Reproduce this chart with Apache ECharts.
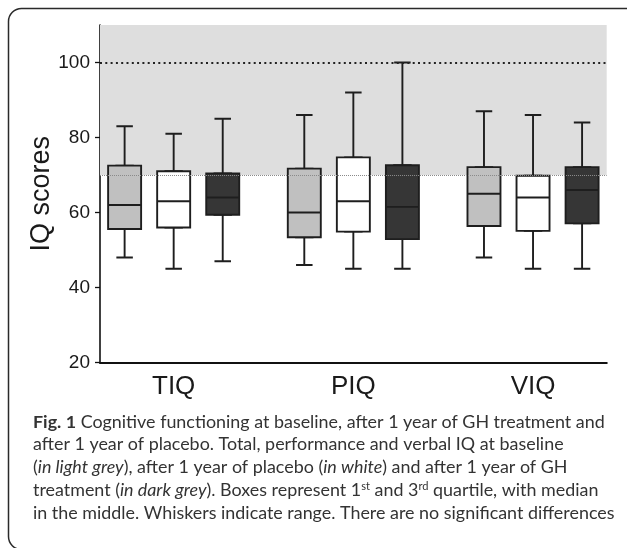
<!DOCTYPE html>
<html>
<head>
<meta charset="utf-8">
<script src="https://cdn.jsdelivr.net/npm/echarts@6/dist/echarts.min.js"></script>
<style>
html,body{margin:0;padding:0;background:#fff;}
#chart{width:627px;height:548px;}
</style>
</head>
<body>
<div id="chart"></div>
<script>
// ---- data (min, Q1, median, Q3, max) ----
var categories = ['TIQ', 'PIQ', 'VIQ'];
var baseline = [[48, 55.6, 62, 72.5, 83], [46, 53.4, 60, 71.7, 86], [48, 56.4, 65, 72.1, 87]];
var placebo = [[45, 56, 63, 71, 81], [45, 54.9, 63, 74.7, 92], [45, 55.1, 64, 69.8, 86]];
var ghTreatment = [[47, 59.4, 64, 70.4, 85], [45, 52.9, 61.5, 72.6, 100], [45, 57.1, 66, 72.1, 84]];
var yTicks = [20, 40, 60, 80, 100];
var normalRange = [70, 110];
var referenceLine = 100;

var conditions = [
  { data: baseline, color: '#c0c0c0' },
  { data: placebo, color: '#ffffff' },
  { data: ghTreatment, color: '#363636' }
];
var offsets = [-0.273, 0, 0.273];
var xMin = -0.41, xMax = 2.41;

var whiskerData = [], boxData = [];
categories.forEach(function (cat, g) {
  conditions.forEach(function (cond, c) {
    var v = cond.data[g];
    var x = g + offsets[c];
    whiskerData.push({ value: [x, v[0], v[1], v[2], v[3], v[4]], itemStyle: { color: cond.color } });
    boxData.push({ value: [x, v[1], v[1], v[2], v[3], v[3]], itemStyle: { color: cond.color } });
  });
});

var chart = echarts.init(document.getElementById('chart'), null, { renderer: 'canvas' });
var xAxisBase = {
  type: 'value', min: xMin, max: xMax,
  splitLine: { show: false }, axisTick: { show: false }
};
var option = {
  backgroundColor: '#fff',
  animation: false,
  grid: { left: 100, right: 20.3, top: 25, bottom: 185.5, containLabel: false, outerBoundsMode: 'none' },
  xAxis: [
    Object.assign({}, xAxisBase, {
      axisLine: { show: true, onZero: false, lineStyle: { color: '#111', width: 2.2 } },
      axisLabel: {
        customValues: [0, 1, 2],
        formatter: function (v) { return categories[Math.round(v)]; },
        fontSize: 26, color: '#1a1a1a', margin: 11, fontFamily: 'Liberation Sans, Arial, sans-serif'
      }
    }),
    Object.assign({}, xAxisBase, { show: false })
  ],
  yAxis: {
    type: 'value', min: 20, max: 110, interval: 20,
    splitLine: { show: false },
    axisLine: { show: true, onZero: false, lineStyle: { color: '#111', width: 1.6 } },
    axisTick: { show: true, customValues: yTicks, length: 5, lineStyle: { color: '#111', width: 1.3 } },
    axisLabel: { customValues: yTicks, fontSize: 19, color: '#1a1a1a', margin: 10, fontFamily: 'Liberation Sans, Arial, sans-serif' },
    name: 'IQ scores', nameLocation: 'middle', nameRotate: 90, nameGap: 45, nameMoveOverlap: false,
    nameTextStyle: { fontSize: 27, color: '#1a1a1a', fontFamily: 'Liberation Sans, Arial, sans-serif' }
  },
  series: [
    {
      type: 'line', xAxisIndex: 0, data: [], z: 1, silent: true,
      markArea: {
        silent: true,
        itemStyle: { color: '#dedede' },
        data: [[{ coord: [xMin, normalRange[0]] }, { coord: [xMax, normalRange[1]] }]]
      },
      markLine: {
        silent: true, symbol: 'none', label: { show: false },
        data: [
          { yAxis: referenceLine, lineStyle: { type: [2, 3.3], color: '#222', width: 1.8 } },
          { yAxis: normalRange[0], lineStyle: { type: [1, 1], color: '#8a8a8a', width: 1 } }
        ]
      }
    },
    {
      type: 'boxplot', xAxisIndex: 1, z: 3,
      boxWidth: [16.5, 16.5],
      itemStyle: { borderColor: '#1e1e1e', borderWidth: 1.9 },
      data: whiskerData
    },
    {
      type: 'boxplot', xAxisIndex: 0, z: 4,
      boxWidth: [33, 33],
      itemStyle: { borderColor: '#1e1e1e', borderWidth: 1.9 },
      data: boxData
    }
  ],
  graphic: [
    {
      type: 'rect', silent: true, z: 100,
      shape: { x: 8.5, y: 8.5, width: 630, height: 541, r: 13 },
      style: { fill: null, stroke: '#2a2a2a', lineWidth: 1.5 }
    }
  ]
};

var captionLines = [
  '{b|Fig. 1} Cognitive functioning at baseline, after 1 year of GH treatment and',
  'after 1 year of placebo. Total, performance and verbal IQ at baseline',
  '({i|in light grey}), after 1 year of placebo ({i|in white}) and after 1 year of GH',
  'treatment ({i|in dark grey}). Boxes represent 1{sup|st} and 3{sup|rd} quartile, with median',
  'in the middle. Whiskers indicate range. There are no significant differences'
];
var capFont = 'Lato, sans-serif';
// fit the caption's longest plain line to the caption column width
var ctx = document.createElement('canvas').getContext('2d');
ctx.font = '100px ' + capFont;
var capSize = Math.min(19, 100 * 582 / ctx.measureText(captionLines[4]).width);
captionLines.forEach(function (line, i) {
  option.graphic.push({
    type: 'text', silent: true, z: 100,
    left: 33, top: 424 - capSize * 0.62 + i * 22.75,
    style: {
      text: line,
      fontFamily: capFont, fontSize: capSize, fill: '#333',
      rich: {
        b: { fontFamily: capFont, fontSize: capSize, fontWeight: 'bold', fill: '#333' },
        i: { fontFamily: capFont, fontSize: capSize, fontStyle: 'italic', fill: '#333' },
        sup: { fontFamily: capFont, fontSize: capSize * 0.62, fill: '#333', verticalAlign: 'top' }
      }
    }
  });
});

chart.setOption(option);
</script>
</body>
</html>
